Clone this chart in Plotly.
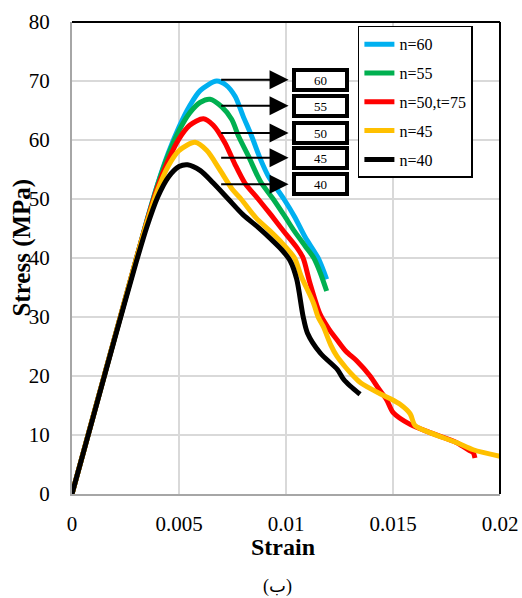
import plotly.graph_objects as go

# Stress-strain curves for five values of n
strain_n60 = [0, 0.001, 0.002, 0.003, 0.0035, 0.0040, 0.0045, 0.0050, 0.0055, 0.0060, 0.00676,
              0.0072, 0.00762, 0.0080, 0.0084, 0.0088, 0.00917, 0.0099, 0.0104, 0.0109, 0.0115, 0.0119]
stress_n60 = [0, 13.3, 26.6, 39.8, 46.4, 52.5, 57.8, 62.2, 65.8, 68.4, 70.0,
              69.3, 67.4, 64.0, 60.6, 56.8, 53.9, 50.0, 47.0, 43.5, 40.0, 36.4]

strain_n55 = [0, 0.001, 0.002, 0.003, 0.0035, 0.0040, 0.0045, 0.0050, 0.0055, 0.0060, 0.00645,
              0.0070, 0.00746, 0.0078, 0.00824, 0.0088, 0.0094, 0.0099, 0.0104, 0.0109, 0.0113, 0.0116, 0.0119]
stress_n55 = [0, 13.3, 26.6, 39.8, 46.3, 52.4, 57.5, 61.6, 64.6, 66.4, 66.9,
              65.6, 63.5, 60.5, 57.3, 53.0, 50.0, 47.3, 44.5, 42.0, 40.0, 37.5, 34.4]

strain_n50 = [0, 0.001, 0.002, 0.003, 0.0035, 0.0040, 0.0045, 0.0050, 0.0055, 0.00614, 0.0066,
              0.00715, 0.0076, 0.00808, 0.0087, 0.0093, 0.0099, 0.0105, 0.0108, 0.0111, 0.01159,
              0.0120, 0.01237, 0.0128, 0.0133, 0.01393, 0.0143, 0.0147, 0.01501, 0.0158, 0.01673,
              0.01798, 0.0186, 0.01875, 0.01883]
stress_n50 = [0, 13.3, 26.6, 39.8, 46.2, 52.0, 56.6, 60.2, 62.5, 63.6, 62.5,
              59.5, 56.0, 52.7, 50.0, 47.3, 44.5, 41.8, 40.0, 36.0, 30.5,
              28.0, 26.2, 24.2, 22.6, 20.0, 18.0, 16.0, 13.8, 11.8, 10.4,
              8.7, 7.3, 7.0, 6.1]

strain_n45 = [0, 0.001, 0.002, 0.003, 0.0035, 0.0040, 0.0045, 0.0050, 0.00575, 0.0063, 0.0069,
              0.0075, 0.0079, 0.0086, 0.00925, 0.0098, 0.0104, 0.0107, 0.01128, 0.0115, 0.01174,
              0.0121, 0.01237, 0.0128, 0.01315, 0.0135, 0.01439, 0.0149, 0.01533, 0.0158, 0.01603,
              0.01673, 0.01798, 0.01875, 0.0200]
stress_n45 = [0, 13.3, 26.6, 39.8, 46.0, 51.5, 55.6, 58.2, 59.6, 58.2, 55.0,
              51.6, 50.0, 46.8, 44.6, 42.6, 40.0, 37.0, 32.4, 30.0, 28.4,
              25.2, 23.4, 21.4, 20.0, 18.8, 17.0, 16.1, 15.2, 13.6, 11.6,
              10.4, 8.7, 7.5, 6.4]

strain_n40 = [0, 0.001, 0.002, 0.003, 0.0035, 0.0040, 0.0045, 0.0050, 0.0054, 0.0060, 0.0066,
              0.0073, 0.0080, 0.0087, 0.0093, 0.0098, 0.0102, 0.0105, 0.0108, 0.0110, 0.0116,
              0.0124, 0.0127, 0.0130, 0.01346]
stress_n40 = [0, 13.2, 26.4, 39.3, 45.3, 50.3, 53.7, 55.5, 55.8, 54.8, 52.7,
              50.0, 47.3, 45.2, 43.2, 41.4, 39.5, 36.4, 30.1, 27.3, 23.9,
              21.1, 19.4, 18.3, 16.9]

series_names = ["n=60", "n=55", "n=50,t=75", "n=45", "n=40"]
series_colors = ["#00b0f0", "#00b050", "#ff0000", "#ffc000", "#000000"]
series_strain = [strain_n60, strain_n55, strain_n50, strain_n45, strain_n40]
series_stress = [stress_n60, stress_n55, stress_n50, stress_n45, stress_n40]

# Peak tags with arrows pointing at them
tag_texts = ["60", "55", "50", "45", "40"]
tag_y = [70.2, 65.8, 61.2, 57.0, 52.5]
tag_x = 0.01161
arrow_tail_x = 0.0069
arrow_tip_x = 0.01012

x_ticks = [0, 0.005, 0.01, 0.015, 0.02]
x_tick_text = ["0", "0.005", "0.01", "0.015", "0.02"]
y_ticks = [0, 10, 20, 30, 40, 50, 60, 70, 80]

SERIF = "Liberation Serif, Times New Roman, serif"

fig = go.Figure()
for i, (name, color, xs, ys) in enumerate(zip(series_names, series_colors, series_strain, series_stress)):
    fig.add_trace(go.Scatter(
        x=xs, y=ys, mode="lines", name=name, legendgroup=f"g{i}",
        line=dict(color=color, width=5, shape="spline", smoothing=0.8),
    ))

annotations = []
for txt, yv in zip(tag_texts, tag_y):
    annotations.append(dict(
        x=arrow_tip_x, y=yv, xref="x", yref="y",
        ax=arrow_tail_x, ay=yv, axref="x", ayref="y",
        text="", showarrow=True, arrowhead=2, arrowsize=1.9, arrowwidth=2,
        arrowcolor="black",
    ))
for txt, yv in zip(tag_texts, tag_y):
    annotations.append(dict(
        x=tag_x, y=yv, xref="x", yref="y", text=txt, showarrow=False,
        font=dict(family=SERIF, size=13, color="black"),
        bgcolor="white", bordercolor="black", borderwidth=4, borderpad=1,
        width=47, height=14,
    ))

annotations += [
    dict(x=-0.117, y=0.522, xref="paper", yref="paper", text="<b>Stress (MPa)</b>",
         textangle=-90, showarrow=False, xanchor="center", yanchor="middle",
         font=dict(family=SERIF, size=25, color="black")),
    dict(x=0.493, y=-0.112, xref="paper", yref="paper", text="<b>Strain</b>",
         showarrow=False, xanchor="center", yanchor="middle",
         font=dict(family=SERIF, size=24, color="black")),
    dict(x=0.481, y=-0.196, xref="paper", yref="paper", text="(ب)",
         showarrow=False, xanchor="center", yanchor="middle",
         font=dict(family="Liberation Serif, DejaVu Sans, serif", size=18, color="black")),
]

fig.update_layout(
    width=522, height=598,
    margin=dict(l=72, r=22, t=22, b=103.5),
    paper_bgcolor="white", plot_bgcolor="white",
    font=dict(family=SERIF, color="black"),
    showlegend=True,
    legend=dict(
        x=0.668, y=0.992, xanchor="left", yanchor="top",
        bgcolor="white", bordercolor="black", borderwidth=1.5,
        font=dict(family=SERIF, size=16, color="black"),
        tracegroupgap=5,
    ),
    annotations=annotations,
    shapes=[
        dict(type="line", xref="paper", yref="paper", x0=0, x1=1, y0=1, y1=1,
             line=dict(color="black", width=2)),
        dict(type="line", xref="paper", yref="paper", x0=1, x1=1, y0=0, y1=1,
             line=dict(color="black", width=2)),
    ],
)

fig.update_xaxes(
    range=[0, 0.02], tickvals=x_ticks, ticktext=x_tick_text,
    automargin=False, ticklabeloverflow="allow",
    showgrid=True, gridcolor="#d9d9d9", gridwidth=1.5,
    showline=True, linecolor="#a6a6a6", linewidth=2,
    ticks="", ticklabelstandoff=10,
    tickfont=dict(family=SERIF, size=21, color="black"),
    zeroline=False,
)
fig.update_yaxes(
    range=[0, 80], tickvals=y_ticks,
    automargin=False, ticklabeloverflow="allow",
    showgrid=True, gridcolor="#d9d9d9", gridwidth=1.5,
    showline=True, linecolor="#a6a6a6", linewidth=2,
    ticks="", ticklabelstandoff=16,
    tickfont=dict(family=SERIF, size=21, color="black"),
    zeroline=False,
)

fig.write_html("out.html")
